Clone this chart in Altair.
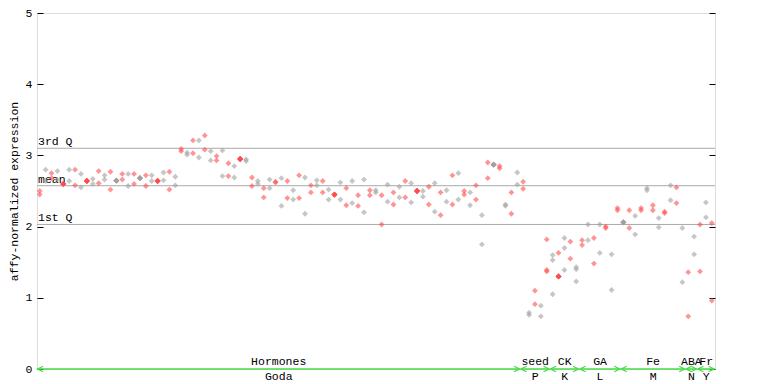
import altair as alt
import pandas as pd

# ---- data ----
groups = ["Hormones", "seed", "CK", "GA", "Fe", "ABA", "Fr"]
group_codes = ["Goda", "P", "K", "L", "M", "N", "Y"]

hormones_vals = [
    [2.50, 2.45], [2.80, 2.64], [2.75, 2.68], [2.78, 2.66], [2.60, 2.60],
    [2.80, 2.64], [2.80, 2.58], [2.74, 2.55], [2.64, 2.64], [2.67, 2.60],
    [2.78, 2.61], [2.72, 2.66], [2.77, 2.52], [2.645, 2.645], [2.74, 2.66],
    [2.74, 2.57], [2.74, 2.60], [2.68, 2.68], [2.72, 2.57], [2.72, 2.64],
    [2.64, 2.64], [2.76, 2.65], [2.77, 2.52], [2.70, 2.58], [3.09, 3.06],
    [3.04, 3.01], [3.21, 3.03], [3.21, 2.97], [3.28, 3.08], [3.06, 2.93],
    [2.99, 2.93], [3.07, 2.71], [2.89, 2.71], [2.85, 2.69], [2.95, 2.95],
    [2.945, 2.92], [2.69, 2.57], [2.64, 2.60], [2.54, 2.41], [2.66, 2.54],
    [2.63, 2.62], [2.68, 2.29], [2.64, 2.40], [2.51, 2.38], [2.72, 2.40],
    [2.69, 2.18], [2.58, 2.48], [2.65, 2.58], [2.64, 2.48], [2.52, 2.38],
    [2.45, 2.45], [2.62, 2.38], [2.54, 2.30], [2.64, 2.33], [2.44, 2.29],
    [2.66, 2.20], [2.51, 2.44], [2.51, 2.48], [2.44, 2.03], [2.59, 2.35],
    [2.48, 2.31], [2.56, 2.41], [2.64, 2.41], [2.61, 2.34], [2.50, 2.50],
    [2.50, 2.42], [2.56, 2.31], [2.61, 2.21], [2.48, 2.16], [2.51, 2.35],
    [2.72, 2.31], [2.75, 2.38], [2.50, 2.45], [2.48, 2.30], [2.58, 2.38],
    [2.16, 1.75], [2.90, 2.68], [2.87, 2.87], [2.85, 2.82], [2.31, 2.29],
    [2.48, 2.18], [2.76, 2.59],
]
seed_vals = [[2.63, 2.53], [0.79, 0.76], [1.10, 0.91], [0.89, 0.74], [1.82, 1.39, 1.37]]
ck_vals = [[1.60, 1.53, 1.05], [1.30, 1.30, 1.63], [1.84, 1.70, 1.39], [1.79, 1.55], [1.43, 1.40, 1.23]]
ga_vals = [[1.81, 1.74], [2.03, 1.81], [1.84, 1.48], [2.03, 1.63], [2.00, 1.98], [1.61, 1.11], [2.26, 2.23]]
fe_vals = [[2.06, 2.06], [2.23, 1.98], [2.15, 1.89], [2.26, 2.23], [2.54, 2.51], [2.30, 2.23],
           [2.12, 1.99], [2.21, 2.19], [2.58, 2.37], [2.55, 2.33], [1.98, 1.22]]
aba_vals = [[1.36, 0.74], [1.86, 1.61]]
fr_vals = [[2.03, 1.37], [2.34, 2.13], [2.05, 0.96]]
all_vals = [hormones_vals, seed_vals, ck_vals, ga_vals, fe_vals, aba_vals, fr_vals]

quartile_names = ["3rd Q", "mean", "1st Q"]
quartile_vals = [3.10, 2.574, 2.03]
y_ticks = [0, 1, 2, 3, 4, 5]
x_grid = [10, 20, 30, 40, 50, 60, 70, 80, 90, 100, 110]

RED = "#ff4d4d"
GRAY = "#a0a0a0"
GREEN = "#44dd44"
FONT = "Liberation Mono"

# ---- build tables ----
rows, grp_rows = [], []
k = 0
for g, code, vals in zip(groups, group_codes, all_vals):
    start = k
    for col in vals:
        for v in col:
            rows.append({"sample": k + 0.46, "value": v,
                         "col": "red" if k % 2 == 0 else "gray",
                         "solid": col.count(v) > 1})
        k += 1
    grp_rows.append({"group": g, "code": code, "start": start + 0.1,
                     "end": k - 1 + 0.85, "mid": (start + k) / 2.0, "base": 0})
pts = pd.DataFrame(rows)
grp = pd.DataFrame(grp_rows)
qdf = pd.DataFrame({"name": quartile_names, "q": quartile_vals})
tick_df = pd.DataFrame({"t": y_ticks})

W, H = 678, 356
xs = alt.Scale(domain=[0, 115], nice=False, zero=False)
ys = alt.Scale(domain=[0, 5], nice=False)

color_scale = alt.Scale(domain=["red", "gray"], range=[RED, GRAY])

base_x_axis = alt.Axis(values=x_grid, grid=True, gridColor="#aaaaaa", gridWidth=1,
                       labels=False, ticks=False, domain=False, title=None)

left_axis = alt.Axis(orient="left", values=y_ticks, grid=False, domain=False, ticks=True,
                     tickSize=6, tickColor="black", offset=-6, labelPadding=5,
                     labelFont=FONT, labelFontSize=11.5, labelColor="black",
                     title="affy-normalized expression", titleFont=FONT,
                     titleFontSize=11.5, titleFontWeight="normal", titleColor="black",
                     titleX=-29, titleY=178, titleAngle=270, titleBaseline="middle",
                     titleAlign="center")
right_axis = alt.Axis(orient="right", values=y_ticks, labels=False, domain=False,
                      grid=False, ticks=True, tickSize=6, tickColor="black",
                      offset=-6, title=None)

X = lambda f, **kw: alt.X(f, scale=xs, axis=None, **kw)
Y = lambda f, **kw: alt.Y(f, scale=ys, axis=None, **kw)

gridlayer = alt.Chart(tick_df).mark_point(opacity=0).encode(
    x=alt.X("t:Q", scale=xs, axis=base_x_axis),
    y=alt.Y("t:Q", scale=ys, axis=left_axis),
)
right_ticks = alt.Chart(tick_df).mark_point(opacity=0).encode(
    x=X("t:Q"),
    y=alt.Y("t:Q", scale=ys, axis=right_axis),
)

quart = alt.Chart(qdf).mark_rule(color="#aaaaaa", strokeWidth=1).encode(
    x=alt.value(0), x2=alt.value(W), y=Y("q:Q"))
quart_txt = alt.Chart(qdf).mark_text(align="left", baseline="alphabetic", dy=-3,
                                     font=FONT, fontSize=11.5, color="black").encode(
    x=alt.value(1), y=Y("q:Q"), text="name:N")

points = alt.Chart(pts).mark_point(shape="diamond", filled=True, size=34, opacity=0.6).encode(
    x=X("sample:Q"), y=Y("value:Q"),
    color=alt.Color("col:N", scale=color_scale, legend=None),
)
solid = alt.Chart(pts).transform_filter("datum.solid").mark_point(
    shape="diamond", filled=True, size=34, opacity=1).encode(
    x=X("sample:Q"), y=Y("value:Q"),
    color=alt.Color("col:N", scale=color_scale, legend=None),
)

arrow_line = alt.Chart(grp).mark_rule(color=GREEN, strokeWidth=1.5).encode(
    x=X("start:Q"), x2="end:Q", y=Y("base:Q"))
arrow_l = alt.Chart(grp).mark_point(shape="M2,-1L0,0L2,1", filled=False, size=30,
                                    color=GREEN, strokeWidth=1.3, opacity=1).encode(
    x=X("start:Q"), y=Y("base:Q"))
arrow_r = alt.Chart(grp).mark_point(shape="M-2,-1L0,0L-2,1", filled=False, size=30,
                                    color=GREEN, strokeWidth=1.3, opacity=1).encode(
    x=X("end:Q"), y=Y("base:Q"))
top_lbl = alt.Chart(grp).mark_text(font=FONT, fontSize=11.5, color="black",
                                   baseline="middle").encode(
    x=X("mid:Q"), y=alt.value(H - 7), text="group:N")
bot_lbl = alt.Chart(grp).mark_text(font=FONT, fontSize=11.5, color="black",
                                   baseline="middle").encode(
    x=X("mid:Q"), y=alt.value(H + 8), text="code:N")

chart = alt.layer(
    gridlayer, right_ticks, quart, quart_txt, points, solid,
    arrow_line, arrow_l, arrow_r, top_lbl, bot_lbl,
).resolve_axis(y="independent").properties(
    width=W, height=H,
    autosize=alt.AutoSizeParams(type="none"),
    padding={"left": 29, "top": 5, "right": 30, "bottom": 16},
).configure_view(stroke="black", strokeWidth=1).configure(background="white")

chart.save("out.html", embed_options={"renderer": "svg", "actions": False})
